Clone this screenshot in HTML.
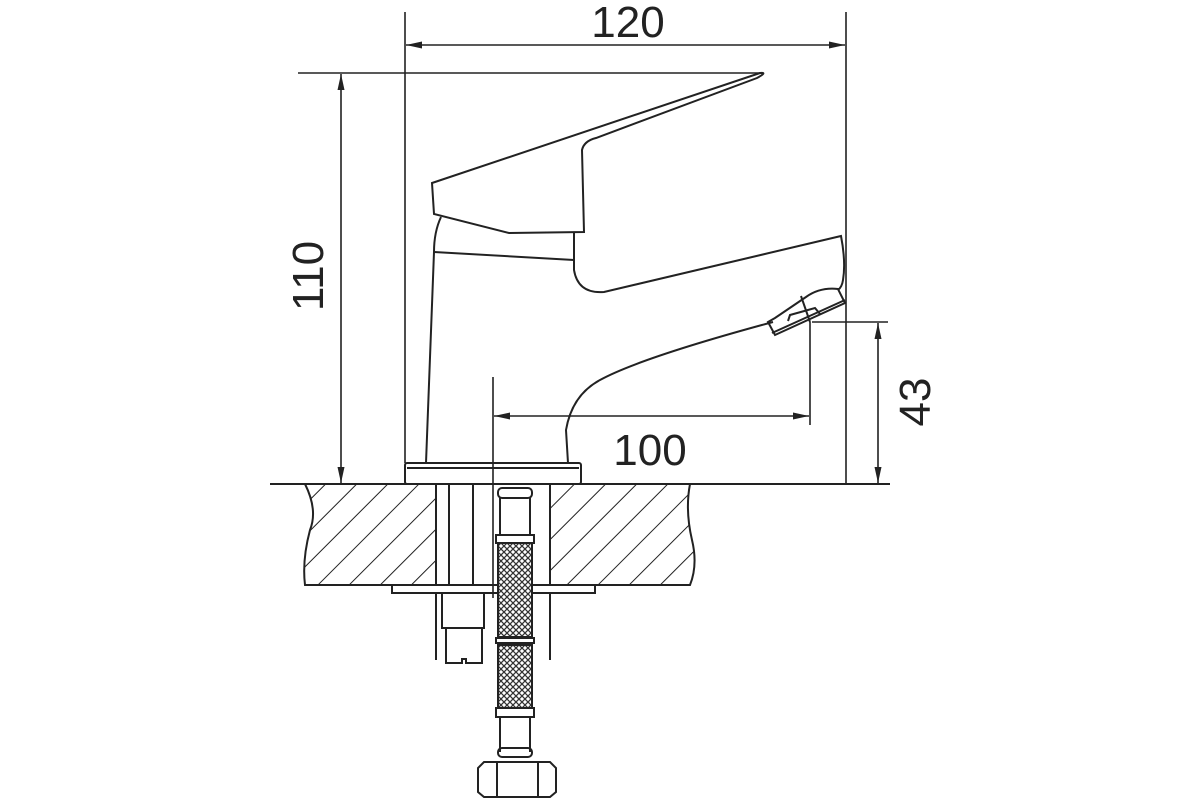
<!DOCTYPE html>
<html><head><meta charset="utf-8"><style>
html,body{margin:0;padding:0;background:#fff;}
svg{display:block;}
text{font-family:"Liberation Sans",sans-serif;fill:#222;}
</style></head><body>
<svg width="1200" height="800" viewBox="0 0 1200 800" xmlns="http://www.w3.org/2000/svg">
<defs>
<pattern id="hatch" patternUnits="userSpaceOnUse" width="22" height="22" patternTransform="rotate(45)">
<line x1="0" y1="0" x2="0" y2="22" stroke="#222" stroke-width="2"/>
</pattern>
<pattern id="mesh" patternUnits="userSpaceOnUse" width="6" height="6">
<rect width="6" height="6" fill="#fff"/>
<path d="M0 0 L6 6 M6 0 L0 6" stroke="#333" stroke-width="1.3"/>
</pattern>
<marker id="ar" viewBox="0 0 16 8" refX="16" refY="4" markerWidth="16" markerHeight="8" orient="auto-start-reverse" markerUnits="userSpaceOnUse">
<path d="M0 0.5 L16 4 L0 7.5 Z" fill="#222"/>
</marker>
</defs>
<g stroke="#222" stroke-width="2" fill="none">
<path d="M305 484 Q318 510 310 530 Q302 560 305 585 L436 585 L436 484 Z" fill="url(#hatch)"/>
<path d="M550 484 L690 484 Q685 510 692 540 Q698 565 690 585 L550 585 Z" fill="url(#hatch)"/>
<line x1="270" y1="484" x2="890" y2="484"/>
<line x1="449" y1="484" x2="449" y2="585"/>
<line x1="473" y1="484" x2="473" y2="585"/>
<rect x="392" y="585" width="203" height="8" fill="#fff"/>
<line x1="436" y1="593" x2="436" y2="660"/>
<line x1="550" y1="593" x2="550" y2="660"/>
<path d="M442 593 L442 628 L446 628 L446 663 L462 663 L462 659 L466 659 L466 663 L482 663 L482 628 L484 628 L484 593"/>
<line x1="446" y1="628" x2="482" y2="628"/>
<rect x="498" y="488" width="34" height="10" rx="4" fill="#fff"/>
<line x1="500" y1="498" x2="500" y2="535"/><line x1="530" y1="498" x2="530" y2="535"/>
<rect x="496" y="535" width="38" height="8" fill="#fff"/>
<rect x="498" y="543" width="34" height="94" fill="url(#mesh)"/>
<rect x="496" y="638" width="38" height="5"/>
<rect x="498" y="645" width="34" height="63" fill="url(#mesh)"/>
<rect x="496" y="708" width="38" height="9"/>
<line x1="500" y1="717" x2="500" y2="752"/><line x1="530" y1="717" x2="530" y2="752"/>
<rect x="498" y="748" width="34" height="9" rx="4"/>
<path d="M484 762 L550 762 L556 768 L556 792 L550 797 L484 797 L478 792 L478 768 Z"/>
<line x1="497" y1="762" x2="497" y2="797"/><line x1="538" y1="762" x2="538" y2="797"/>
<rect x="405" y="463" width="176" height="21" rx="2" fill="#fff"/>
<line x1="407" y1="468" x2="579" y2="468"/>
<path d="M441 217 Q434 232 434 252 L426 463"/>
<path d="M434 252 L574 260"/>
<path d="M568 463 L566 430 Q572 395 600 380 Q640 358 773 322"/>
<path d="M432 183 L434 214 L509 233 L584 232 L582 150 Q584 141 596 138 L757 78 Q768 72 760 73 Z"/>
<path d="M574 233 L574 270 Q578 294 604 292 L841 236 Q846 262 843 280 Q842 287 838 290"/>
<path d="M838 289 Q820 287 806 297 L775 318 L768 322 L775 335 L845 303 L838 289 Z"/>
<line x1="772" y1="333" x2="845" y2="300"/>
<line x1="801" y1="296" x2="810" y2="322"/>
<path d="M788 321 L790 315 L815 308 L820 314"/>
</g>
<g stroke="#222" stroke-width="1.6" fill="none">
<line x1="405" y1="12" x2="405" y2="463"/>
<line x1="846" y1="12" x2="846" y2="484"/>
<line x1="406" y1="45" x2="845" y2="45" marker-start="url(#ar)" marker-end="url(#ar)"/>
<line x1="298" y1="73" x2="760" y2="73"/>
<line x1="341" y1="74" x2="341" y2="483" marker-start="url(#ar)" marker-end="url(#ar)"/>
<line x1="812" y1="322" x2="888" y2="322"/>
<line x1="878" y1="323" x2="878" y2="483" marker-start="url(#ar)" marker-end="url(#ar)"/>
<line x1="493" y1="377" x2="493" y2="598"/>
<line x1="810" y1="322" x2="810" y2="425"/>
<line x1="494" y1="416" x2="809" y2="416" marker-start="url(#ar)" marker-end="url(#ar)"/>
</g>
<text x="628" y="37" font-size="44" text-anchor="middle">120</text>
<text x="650" y="465" font-size="44" text-anchor="middle">100</text>
<text transform="translate(323,276) rotate(-90)" font-size="44" text-anchor="middle">110</text>
<text transform="translate(930,402) rotate(-90)" font-size="44" text-anchor="middle">43</text>
</svg>
</body></html>
